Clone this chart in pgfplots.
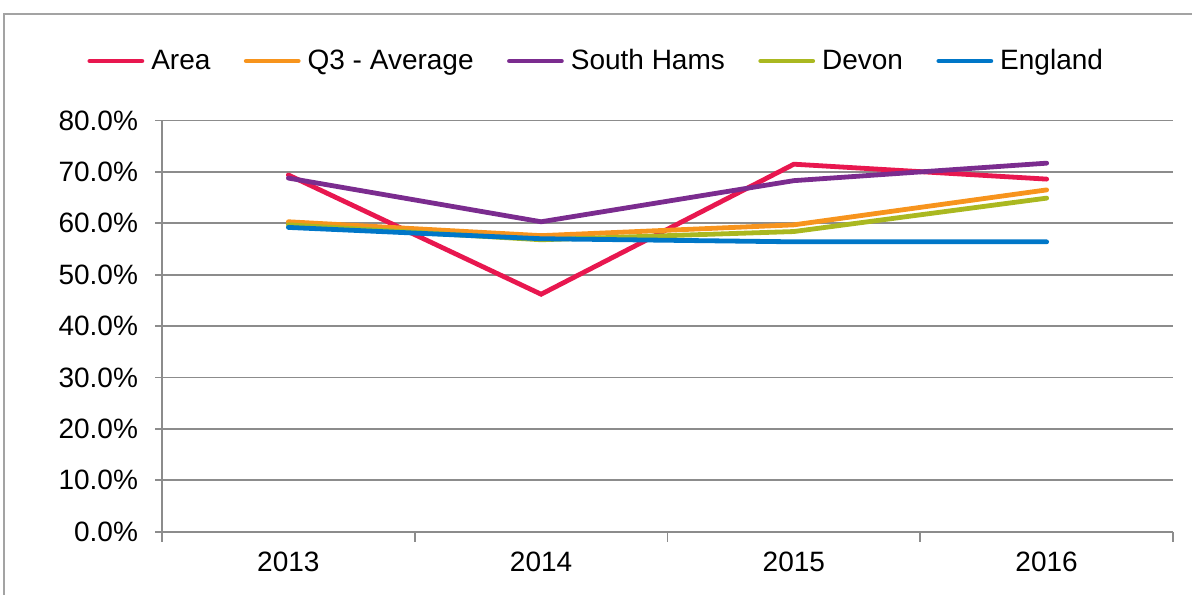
\documentclass[border=0pt]{standalone}
\usepackage{pgfplots}
\pgfplotsset{compat=1.18}
\usepackage{fontspec}
\setmainfont{Liberation Sans}
\definecolor{cArea}{HTML}{E8174F}
\definecolor{cQ3}{HTML}{F7941D}
\definecolor{cSH}{HTML}{7B2C8F}
\definecolor{cDev}{HTML}{AAB820}
\definecolor{cEng}{HTML}{0077C8}
\definecolor{cGrid}{HTML}{8C8C8C}
\begin{document}
\begin{tikzpicture}
\path[use as bounding box] (0pt,0pt) rectangle (596pt,297pt);
\draw[color=cGrid!80, line width=1pt] (2.2pt,-2pt) -- (2.2pt,290pt) -- (598pt,290pt);
\begin{axis}[
  at={(81pt,31.15pt)}, anchor=south west,
  scale only axis, width=505.5pt, height=205.6pt,
  xmin=-0.5, xmax=3.5, ymin=0, ymax=80,
  axis x line*=bottom, axis y line*=left,
  axis line style={cGrid, line width=0.9pt, -},
  xtick={0,1,2,3}, xticklabels={2013,2014,2015,2016},
  major x tick style={draw=none},
  minor xtick={-0.5,0.5,1.5,2.5,3.5},
  minor tick length=5pt,
  tick align=outside,
  ytick={0,10,...,80},
  major tick length=3.5pt,
  tick style={cGrid, line width=0.9pt},
  ymajorgrids, grid style={cGrid, line width=0.9pt},
  yticklabel={\pgfmathprintnumber[fixed,fixed zerofill,precision=1]{\tick}\%},
  /pgf/number format/assume math mode=true,
  ticklabel style={font=\fontsize{14pt}{16pt}\selectfont},
  xticklabel style={yshift=-3pt},
  yticklabel style={xshift=-5pt},
  legend columns=5,
  legend style={draw=none, fill=none, at={(0.4305,1.1447)}, anchor=center,
    font=\fontsize{14pt}{16pt}\selectfont,
    /tikz/every odd column/.append style={column sep=1.5pt},
    /tikz/every even column/.append style={column sep=14.7pt}},
  legend image code/.code={\draw[#1, line width=2.4pt, line cap=round] (0pt,0pt) -- (26pt,0pt);},
  every axis plot/.append style={line width=2.4pt, line cap=round, line join=miter},
  clip=false,
]
\addplot[cArea] coordinates {(0,69.4) (1,46.2) (2,71.5) (3,68.6)};
\addlegendentry{Area}
\addplot[cQ3] coordinates {(0,60.3) (1,57.6) (2,59.7) (3,66.5)};
\addlegendentry{Q3 - Average}
\addplot[cSH] coordinates {(0,68.8) (1,60.3) (2,68.3) (3,71.7)};
\addlegendentry{South Hams}
\addplot[cDev] coordinates {(0,59.7) (1,56.8) (2,58.4) (3,64.9)};
\addlegendentry{Devon}
\addplot[cEng] coordinates {(0,59.2) (1,57.0) (2,56.4) (3,56.4)};
\addlegendentry{England}
\end{axis}
\end{tikzpicture}
\end{document}
